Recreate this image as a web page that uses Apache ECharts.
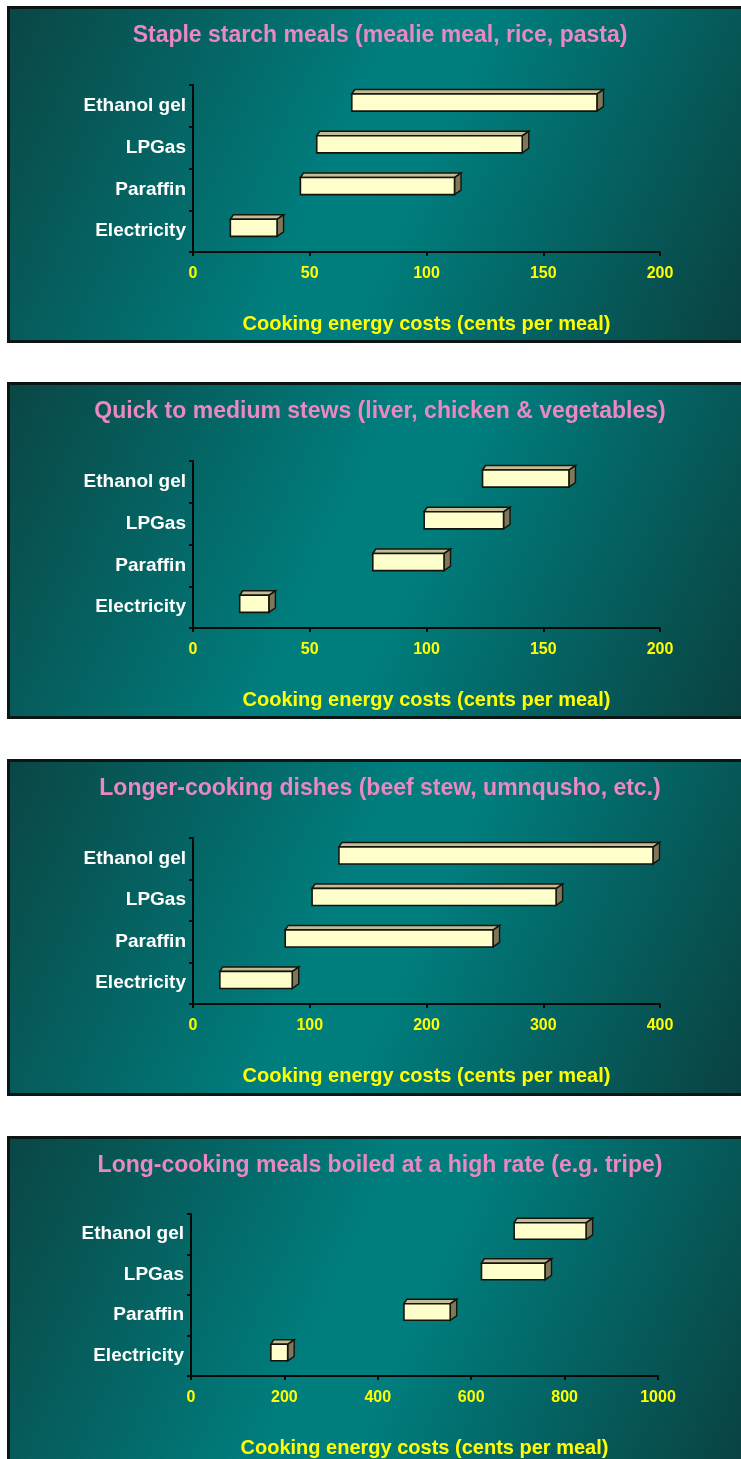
<!DOCTYPE html>
<html>
<head>
<meta charset="utf-8">
<script src="https://cdn.jsdelivr.net/npm/echarts@6/dist/echarts.min.js"></script>
<style>
  html, body { margin: 0; padding: 0; background: #ffffff; }
  #chart { width: 741px; height: 1459px; }
</style>
</head>
<body>
<div id="chart"></div>
<script>
// Fuel categories, bottom to top
const fuels = ['Electricity', 'Paraffin', 'LPGas', 'Ethanol gel'];

// Cost ranges (cents per meal): low and high end for each fuel
const stapleLow  = [16, 46, 53, 68];
const stapleHigh = [36, 112, 141, 173];

const stewLow  = [20, 77, 99, 124];
const stewHigh = [32.5, 107.5, 133, 161];

const longLow  = [23, 79, 102, 125];
const longHigh = [85, 257, 311, 394];

const tripeLow  = [171, 456, 622, 692];
const tripeHigh = [207, 555, 758, 846];

const panelTitles = [
  'Staple starch meals (mealie meal, rice, pasta)',
  'Quick to medium stews (liver, chicken & vegetables)',
  'Longer-cooking dishes (beef stew, umnqusho, etc.)',
  'Long-cooking meals boiled at a high rate (e.g. tripe)'
];
const axisTitle = 'Cooking energy costs (cents per meal)';
const axisMax = [200, 200, 400, 1000];
const axisStep = [50, 50, 100, 200];

const ranges = [
  [stapleLow, stapleHigh],
  [stewLow, stewHigh],
  [longLow, longHigh],
  [tripeLow, tripeHigh]
];

// Layout of the four panels
const panelTop = [7, 383, 760, 1137];
const panelH = 334;
const gridBox = [
  { left: 193, top: 85,   width: 467, height: 167 },
  { left: 193, top: 461,  width: 467, height: 167 },
  { left: 193, top: 838,  width: 467, height: 166 },
  { left: 191, top: 1214, width: 467, height: 167 }
];

const FONT = '"Liberation Sans", Arial, sans-serif';

// 3D-looking floating bar: front face plus top and right bevel faces
function renderBar(params, api) {
  const cat = api.value(0);
  const p0 = api.coord([api.value(1), cat]);
  const p1 = api.coord([api.value(2), cat]);
  const band = api.size([0, 1])[1];
  const h = band * 0.41;
  const yc = p0[1] - band * 0.08;
  const top = yc - h / 2, bot = yc + h / 2;
  const x0 = p0[0], x1 = p1[0];
  const dxL = 3, dxR = 6.5, dy = 4.5;
  const edge = '#15140c';
  return {
    type: 'group',
    children: [
      {
        type: 'polygon',
        shape: { points: [[x1, top], [x1 + dxR, top - dy], [x1 + dxR, bot - dy], [x1, bot]] },
        style: { fill: '#7e775a', stroke: edge, lineWidth: 1.4 }
      },
      {
        type: 'polygon',
        shape: { points: [[x0, top], [x0 + dxL, top - dy], [x1 + dxR, top - dy], [x1, top]] },
        style: { fill: '#c4bc94', stroke: edge, lineWidth: 1.5 }
      },
      {
        type: 'rect',
        shape: { x: x0, y: top, width: x1 - x0, height: h },
        style: { fill: '#ffffcc', stroke: edge, lineWidth: 1.6 }
      }
    ]
  };
}

const grids = [], xAxes = [], yAxes = [], series = [], graphics = [];

for (let i = 0; i < 4; i++) {
  const t = panelTop[i];
  graphics.push({
    type: 'rect',
    z: -10,
    shape: { x: 8.5, y: t + 0.5, width: 740, height: panelH },
    style: {
      fill: new echarts.graphic.LinearGradient(0, 0, 1, 1, [
        { offset: 0, color: '#0a4644' },
        { offset: 0.45, color: '#007e7e' },
        { offset: 0.55, color: '#007d7d' },
        { offset: 1, color: '#0a403f' }
      ]),
      stroke: '#0b1513',
      lineWidth: 3
    }
  });
  graphics.push({
    type: 'text',
    z: 10,
    x: 380,
    y: t + 29,
    style: {
      text: panelTitles[i],
      fill: '#ea88c2',
      font: 'bold 23px ' + FONT,
      textAlign: 'center',
      textVerticalAlign: 'middle'
    }
  });

  grids.push(Object.assign({ containLabel: false }, gridBox[i]));

  xAxes.push({
    type: 'value',
    gridIndex: i,
    min: 0,
    max: axisMax[i],
    interval: axisStep[i],
    name: axisTitle,
    nameLocation: 'middle',
    nameGap: 62,
    nameTextStyle: { color: '#ffff00', fontWeight: 'bold', fontSize: 20, fontFamily: FONT },
    axisLine: { show: true, lineStyle: { color: '#050a08', width: 2 } },
    axisTick: { show: true, length: 4, lineStyle: { color: '#050a08', width: 2 } },
    splitLine: { show: false },
    axisLabel: {
      color: '#ffff00', fontWeight: 'bold', fontSize: 16, fontFamily: FONT, margin: 14,
      formatter: (v) => String(v)
    }
  });

  yAxes.push({
    type: 'category',
    gridIndex: i,
    data: fuels,
    axisLine: { show: true, lineStyle: { color: '#050a08', width: 2 } },
    axisTick: { show: true, length: 4, lineStyle: { color: '#050a08', width: 2 } },
    splitLine: { show: false },
    axisLabel: { color: '#ffffff', fontWeight: 'bold', fontSize: 19, fontFamily: FONT, margin: 7 }
  });

  const lows = ranges[i][0], highs = ranges[i][1];
  series.push({
    type: 'custom',
    xAxisIndex: i,
    yAxisIndex: i,
    renderItem: renderBar,
    encode: { x: [1, 2], y: 0 },
    data: lows.map((v, k) => [k, v, highs[k]]),
    clip: false
  });
}

const chart = echarts.init(document.getElementById('chart'), null, { renderer: 'canvas' });
chart.setOption({
  animation: false,
  backgroundColor: '#ffffff',
  graphic: graphics,
  grid: grids,
  xAxis: xAxes,
  yAxis: yAxes,
  series: series
});
</script>
</body>
</html>
